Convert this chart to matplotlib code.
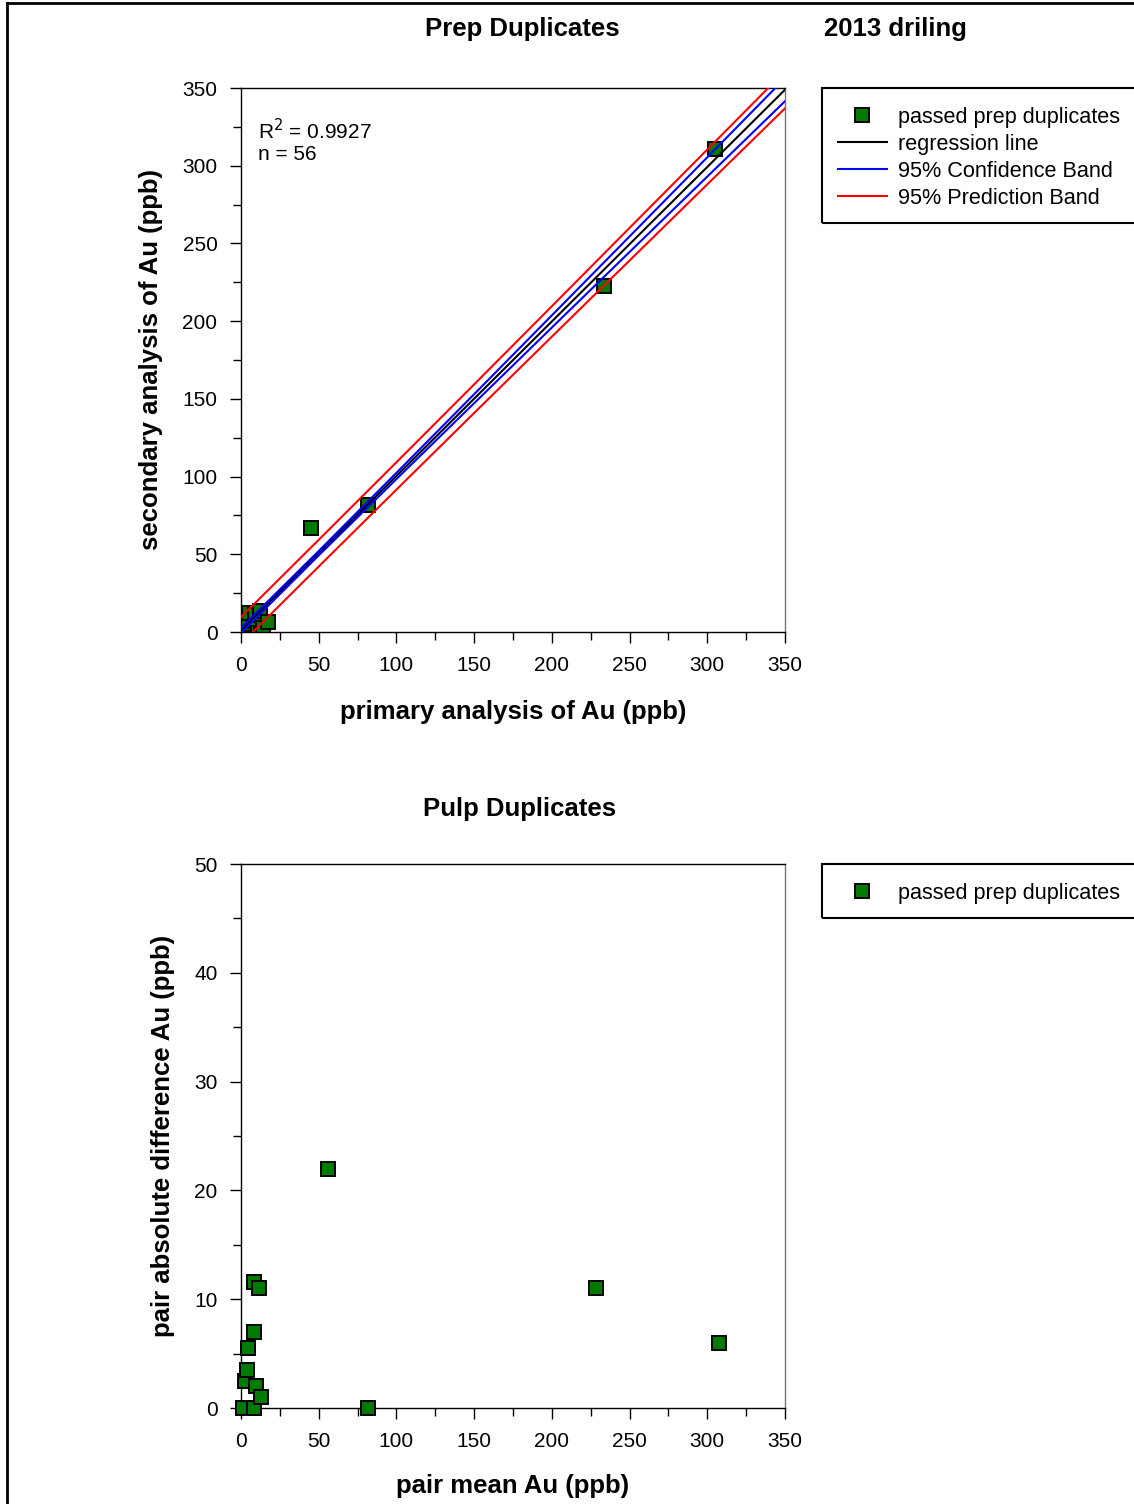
import numpy as np
import matplotlib
matplotlib.use("Agg")
import matplotlib.pyplot as plt
from matplotlib.lines import Line2D
from matplotlib.patches import Rectangle

plt.rcParams['font.family'] = ['Liberation Sans', 'DejaVu Sans']

# duplicate pairs (ppb)
primary = [1.5, 3.9, 1.9, 1.5, 8.6, 5.1, 8.7, 12.2, 14.2, 17.3, 45.0, 81.7, 233.6, 304.8]
secondary = [1.5, 1.4, 5.4, 7.0, 8.6, 12.1, 10.7, 13.2, 2.6, 6.3, 67.0, 81.7, 222.6, 310.8]

# regression line and band half-widths read at these x stations
reg_slope = 0.994
reg_intercept = 1.0
band_x = [0, 50, 100, 150, 200, 250, 300, 350]
conf_half = [1.6, 1.4, 2.0, 2.9, 3.9, 5.0, 6.2, 7.4]
pred_half = [8.6, 8.6, 8.8, 9.2, 9.8, 10.5, 11.2, 12.0]

r2_text = "R$^2$ = 0.9927"
n_text = "n = 56"

W, H = 1134, 1504
fig = plt.figure(figsize=(W / 100, H / 100), dpi=100)


def fx(px):
    return px / W


def fy(py):
    return 1 - py / H


green = '#007a00'
lab_fs = 18.5
leg_fs = 15.6


def style_axes(ax, ymax, ymajor, yminor):
    ax.set_xlim(0, 350)
    ax.set_ylim(0, ymax)
    ax.set_xticks(np.arange(0, 351, 50))
    ax.set_xticks(np.arange(0, 351, 25), minor=True)
    ax.set_yticks(np.arange(0, ymax + 1, ymajor))
    ax.set_yticks(np.arange(0, ymax + 1, yminor), minor=True)
    ax.tick_params(which='both', direction='out', labelsize=15, pad=9, width=1)
    ax.tick_params(which='major', length=8)
    ax.tick_params(which='minor', length=6)
    for s in ax.spines.values():
        s.set_linewidth(1.0)
    ax.spines['right'].set_color('#777777')


# ---- top: prep duplicates ----
ax1 = fig.add_axes([fx(241), fy(632), fx(544), 544 / H])
style_axes(ax1, 350, 50, 25)
ax1.plot(primary, secondary, 's', color=green, markeredgecolor='black',
         markeredgewidth=1.4, markersize=9.5, zorder=2)

bx = np.array(band_x, dtype=float)
fit = reg_intercept + reg_slope * bx
ax1.plot(bx, fit, color='black', lw=1.5, zorder=3)
ax1.plot(bx, fit + np.array(conf_half), color='blue', lw=1.5, zorder=3)
ax1.plot(bx, fit - np.array(conf_half), color='blue', lw=1.5, zorder=3)
ax1.plot(bx, fit + np.array(pred_half), color='red', lw=1.5, zorder=3)
ax1.plot(bx, fit - np.array(pred_half), color='red', lw=1.5, zorder=3)

fig.text(fx(258), fy(131), r2_text, fontsize=15, va='center', ha='left')
fig.text(fx(258), fy(154), n_text, fontsize=15, va='center', ha='left')

fig.text(fx(522), fy(29), "Prep Duplicates", fontsize=lab_fs, fontweight='bold', ha='center', va='center')
fig.text(fx(895), fy(29), "2013 driling", fontsize=lab_fs, fontweight='bold', ha='center', va='center')
fig.text(fx(513), fy(712), "primary analysis of Au (ppb)", fontsize=lab_fs, fontweight='bold',
         ha='center', va='center')
fig.text(fx(151), fy(360), "secondary analysis of Au (ppb)", fontsize=lab_fs, fontweight='bold',
         ha='center', va='center', rotation=90)

handles1 = [
    Line2D([], [], ls='none', marker='s', color=green, markeredgecolor='black',
           markeredgewidth=1.4, markersize=9.5),
    Line2D([], [], color='black', lw=1.5),
    Line2D([], [], color='blue', lw=1.5),
    Line2D([], [], color='red', lw=1.5),
]
labels1 = ["passed prep duplicates", "regression line", "95% Confidence Band", "95% Prediction Band"]
fig.patches.append(Rectangle((fx(822), fy(223)), fx(330), (223 - 88) / H, transform=fig.transFigure,
                             fill=False, edgecolor='black', lw=1.5))
fig.legend(handles1, labels1, loc='upper left', bbox_to_anchor=(fx(838), fy(107)), frameon=False,
           fontsize=leg_fs, handlelength=2.26, handletextpad=0.5, labelspacing=0.27, borderpad=0,
           borderaxespad=0)

# ---- bottom: pulp duplicates ----
p = np.array(primary)
s = np.array(secondary)
pair_mean = (p + s) / 2
pair_diff = np.abs(p - s)

ax2 = fig.add_axes([fx(241), fy(1408), fx(544), 544 / H])
style_axes(ax2, 50, 10, 5)
ax2.plot(pair_mean, pair_diff, 's', color=green, markeredgecolor='black',
         markeredgewidth=1.4, markersize=9.5, clip_on=False, zorder=3)

fig.text(fx(520), fy(809), "Pulp Duplicates", fontsize=lab_fs, fontweight='bold', ha='center', va='center')
fig.text(fx(513), fy(1486), "pair mean Au (ppb)", fontsize=lab_fs, fontweight='bold', ha='center', va='center')
fig.text(fx(163), fy(1136), "pair absolute difference Au (ppb)", fontsize=lab_fs, fontweight='bold',
         ha='center', va='center', rotation=90)

fig.patches.append(Rectangle((fx(822), fy(918)), fx(330), (918 - 864) / H, transform=fig.transFigure,
                             fill=False, edgecolor='black', lw=1.5))
fig.legend(handles1[:1], labels1[:1], loc='center left', bbox_to_anchor=(fx(838), fy(893)), frameon=False,
           fontsize=leg_fs, handlelength=2.26, handletextpad=0.5, borderpad=0, borderaxespad=0)

# outer frame of the screenshot
fig.add_artist(Line2D([fx(7), fx(7)], [fy(3), 0], color='black', lw=2, transform=fig.transFigure))
fig.add_artist(Line2D([fx(7), 1], [fy(3), fy(3)], color='black', lw=2, transform=fig.transFigure))

fig.savefig("out.png", dpi=100)
